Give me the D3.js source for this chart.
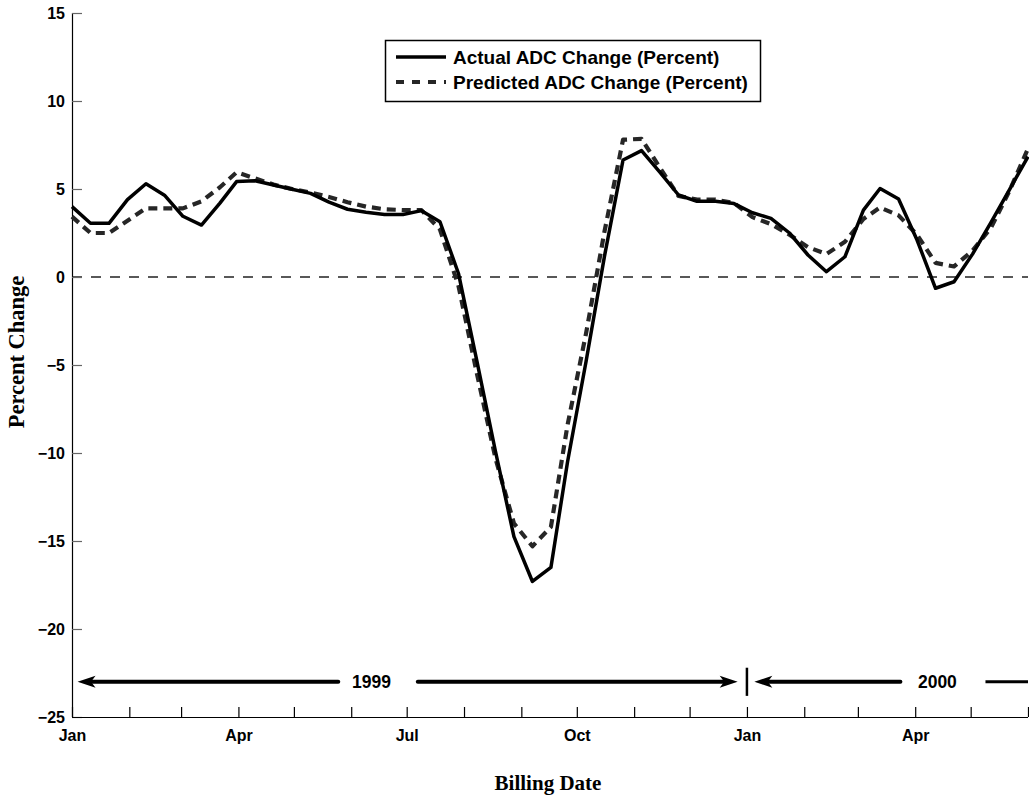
<!DOCTYPE html>
<html>
<head>
<meta charset="utf-8">
<script src="https://cdn.jsdelivr.net/npm/d3@7"></script>
<style>
  html, body { margin: 0; padding: 0; background: #fff; }
  svg { display: block; }
</style>
</head>
<body>
<svg id="chart" width="1029" height="798"></svg>
<script>
// ---------------- DATA ----------------
const billingDates = [
  "1999-01-01","1999-01-11","1999-01-21","1999-01-31","1999-02-10","1999-02-20",
  "1999-03-02","1999-03-12","1999-03-22","1999-03-31","1999-04-10","1999-04-20",
  "1999-04-30","1999-05-10","1999-05-20","1999-05-30","1999-06-09","1999-06-19",
  "1999-06-29","1999-07-09","1999-07-19","1999-07-29","1999-08-08","1999-08-18",
  "1999-08-28","1999-09-07","1999-09-17","1999-09-26","1999-10-06","1999-10-16",
  "1999-10-26","1999-11-05","1999-11-15","1999-11-25","1999-12-05","1999-12-15",
  "1999-12-25","2000-01-04","2000-01-14","2000-01-24","2000-02-03","2000-02-13",
  "2000-02-23","2000-03-04","2000-03-13","2000-03-23","2000-04-02","2000-04-12",
  "2000-04-22","2000-05-02","2000-05-12","2000-05-22","2000-06-01"
];
const actualChange = [
  4.0, 3.05, 3.05, 4.4, 5.3, 4.65,
  3.45, 2.95, 4.2, 5.42, 5.47, 5.23,
  4.99, 4.75, 4.25, 3.85, 3.68, 3.55,
  3.55, 3.77, 3.14, 0.2, -4.8, -9.9,
  -14.75, -17.3, -16.5, -10.5, -4.8, 1.2,
  6.65, 7.18, 5.95, 4.66, 4.3, 4.3,
  4.17, 3.65, 3.33, 2.5, 1.25, 0.3,
  1.15, 3.8, 5.03, 4.43, 2.1, -0.64,
  -0.27, 1.3, 3.1, 4.97, 6.84
];
const predictedChange = [
  3.43, 2.5, 2.5, 3.2, 3.9, 3.9,
  3.9, 4.3, 5.1, 5.95, 5.6, 5.25,
  5.0, 4.8, 4.55, 4.25, 4.0, 3.85,
  3.8, 3.8, 2.7, -0.5, -5.5, -10.3,
  -14.0, -15.3, -14.2, -8.4, -3.2, 2.6,
  7.8, 7.85, 6.2, 4.6, 4.4, 4.4,
  4.2, 3.4, 3.0, 2.4, 1.7, 1.3,
  2.0, 3.3, 3.95, 3.5, 2.4, 0.8,
  0.6, 1.5, 2.8, 4.9, 7.3
];
const yTickValues = [15, 10, 5, 0, -5, -10, -15, -20, -25];
const monthLabels = ["Jan", "", "", "Apr", "", "", "Jul", "", "", "Oct", "", ""];
const seriesNames = ["Actual ADC Change (Percent)", "Predicted ADC Change (Percent)"];
// year annotation (dates + level in percent)
const yearLevel = -23;
const yearLabels = ["1999", "2000"];
const yearLabelDates = ["1999-06-12", "2000-04-13"];
const yearArrowsLeft = [["1999-05-25", "1999-01-04"], ["2000-03-24", "2000-01-05"]]; // [from, tip]
const yearArrowsRight = [["1999-07-07", "1999-12-27"]];
const yearPlainLines = [["2000-05-09", "2000-06-01"]];
const yearDivider = { date: "2000-01-01", y0: -22.2, y1: -23.8 };

// ---------------- CHART ----------------
const parse = d3.timeParse("%Y-%m-%d");
const svg = d3.select("#chart");
const M = { left: 72, right: 1028, top: 13, bottom: 717 };

const x = d3.scaleTime()
  .domain([parse("1999-01-01"), parse("2000-06-01")])
  .range([M.left, M.right]);
const y = d3.scaleLinear().domain([-25, 15]).range([M.bottom, M.top]);

const tickFont = "'Liberation Sans', Arial, Helvetica, sans-serif";
const serifFont = "'Liberation Serif', 'Times New Roman', serif";

// zero reference line
svg.append("line")
  .attr("x1", M.left).attr("x2", M.right)
  .attr("y1", y(0)).attr("y2", y(0))
  .attr("stroke", "#222").attr("stroke-width", 1.5)
  .attr("stroke-dasharray", "10,9");

// Y axis
const yAxis = d3.axisLeft(y).tickValues(yTickValues).tickSize(-10).tickPadding(6)
  .tickFormat(d => d < 0 ? "\u2212" + Math.abs(d) : String(d));
const gy = svg.append("g").attr("transform", `translate(${M.left},0)`).call(yAxis);
gy.select(".domain").attr("stroke", "#000").attr("stroke-width", 1.2)
  .attr("d", `M0.5,${M.top}V${M.bottom}`);
gy.selectAll(".tick line").attr("stroke", "#666").attr("stroke-width", 1.2);
gy.selectAll(".tick text")
  .attr("font-family", tickFont).attr("font-weight", "bold").attr("font-size", 16)
  .attr("fill", "#000").attr("dx", -1);

// X axis
const monthTicks = d3.timeMonth.range(parse("1999-01-01"), d3.timeDay.offset(parse("2000-06-01"), 1));
const xAxis = d3.axisBottom(x).tickValues(monthTicks).tickSize(-10).tickPadding(13)
  .tickFormat(d => monthLabels[d.getMonth()]);
const gx = svg.append("g").attr("transform", `translate(0,${M.bottom})`).call(xAxis);
gx.select(".domain").attr("stroke", "#000").attr("stroke-width", 1.2)
  .attr("d", `M${M.left},0.5H${M.right}`);
gx.selectAll(".tick line").attr("stroke", "#000").attr("stroke-width", 1.2);
gx.selectAll(".tick text")
  .attr("font-family", tickFont).attr("font-weight", "bold").attr("font-size", 16)
  .attr("fill", "#000");

// series
const pts = (vals) => billingDates.map((d, i) => ({ date: parse(d), v: vals[i] }));
const line = d3.line().x(d => x(d.date)).y(d => y(d.v));

svg.append("path").datum(pts(predictedChange))
  .attr("d", line).attr("fill", "none")
  .attr("stroke", "#262626").attr("stroke-width", 4.2)
  .attr("stroke-dasharray", "9,6").attr("stroke-linejoin", "round");

svg.append("path").datum(pts(actualChange))
  .attr("d", line).attr("fill", "none")
  .attr("stroke", "#000").attr("stroke-width", 3.5)
  .attr("stroke-linejoin", "round");

// year annotation
const ay = y(yearLevel);
function arrow(fromDate, tipDate) {
  const x0 = x(parse(fromDate)), x1 = x(parse(tipDate));
  const dir = Math.sign(x1 - x0);
  const head = 18, half = 6;
  svg.append("line").attr("x1", x0).attr("x2", x1 - dir * head * 0.8)
    .attr("y1", ay).attr("y2", ay)
    .attr("stroke", "#000").attr("stroke-width", 4).attr("stroke-linecap", "round");
  svg.append("path")
    .attr("d", `M${x1},${ay}L${x1 - dir * head},${ay - half}L${x1 - dir * head * 0.75},${ay}L${x1 - dir * head},${ay + half}Z`)
    .attr("fill", "#000");
}
yearArrowsLeft.forEach(a => arrow(a[0], a[1]));
yearArrowsRight.forEach(a => arrow(a[0], a[1]));
yearPlainLines.forEach(a => {
  svg.append("line").attr("x1", x(parse(a[0]))).attr("x2", x(parse(a[1])))
    .attr("y1", ay).attr("y2", ay).attr("stroke", "#000").attr("stroke-width", 3);
});
svg.append("line")
  .attr("x1", x(parse(yearDivider.date))).attr("x2", x(parse(yearDivider.date)))
  .attr("y1", y(yearDivider.y0)).attr("y2", y(yearDivider.y1))
  .attr("stroke", "#000").attr("stroke-width", 2.5);
yearLabels.forEach((t, i) => {
  svg.append("text").attr("x", x(parse(yearLabelDates[i]))).attr("y", ay)
    .attr("dy", "0.36em").attr("text-anchor", "middle")
    .attr("font-family", tickFont).attr("font-weight", "bold").attr("font-size", 17.5)
    .text(t);
});

// legend
const lg = svg.append("g");
lg.append("rect").attr("x", 385.5).attr("y", 40.5).attr("width", 375).attr("height", 61)
  .attr("fill", "#fff").attr("stroke", "#000").attr("stroke-width", 1.5);
const legendStyles = [
  { stroke: "#000", width: 3.5, dash: null },
  { stroke: "#262626", width: 4.2, dash: "8,8" }
];
seriesNames.forEach((name, i) => {
  const yy = 57 + i * 25;
  lg.append("line").attr("x1", 396).attr("x2", 446).attr("y1", yy).attr("y2", yy)
    .attr("stroke", legendStyles[i].stroke).attr("stroke-width", legendStyles[i].width)
    .attr("stroke-dasharray", legendStyles[i].dash);
  lg.append("text").attr("x", 453).attr("y", yy).attr("dy", "0.36em")
    .attr("font-family", tickFont).attr("font-weight", "bold").attr("font-size", 19)
    .text(name);
});

// axis titles
svg.append("text")
  .attr("transform", `translate(24,352) rotate(-90)`)
  .attr("text-anchor", "middle")
  .attr("font-family", serifFont).attr("font-weight", "bold").attr("font-size", 22.5)
  .text("Percent Change");
svg.append("text")
  .attr("x", 548).attr("y", 790)
  .attr("text-anchor", "middle")
  .attr("font-family", serifFont).attr("font-weight", "bold").attr("font-size", 21)
  .text("Billing Date");
</script>
</body>
</html>
